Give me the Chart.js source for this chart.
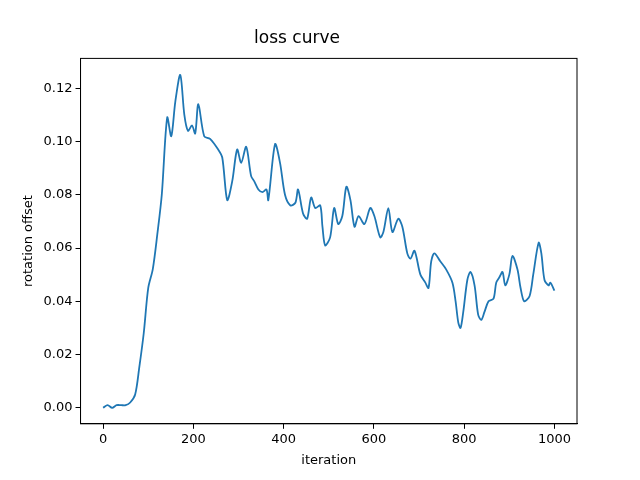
<!DOCTYPE html>
<html>
<head>
<meta charset="utf-8">
<script src="https://cdn.jsdelivr.net/npm/chart.js@4"></script>
<style>
  body { margin: 0; background: #fff; }
  #wrap { width: 640px; height: 480px; }
</style>
</head>
<body>
<div id="wrap"><canvas id="lossChart"></canvas></div>
<script>
// values
const iterations = [0, 10, 20, 30, 40, 50, 60, 71, 80, 90, 100, 110, 120, 130, 142, 151, 160, 171, 180, 188, 197, 204, 211, 224, 237, 255, 264, 275, 286, 297, 306, 317, 328, 335, 344, 353, 362, 366, 381, 392, 403, 415, 426, 432, 443, 452, 461, 470, 481, 486, 492, 503, 512, 521, 530, 539, 548, 557, 566, 579, 592, 601, 614, 621, 632, 641, 654, 663, 674, 681, 690, 703, 714, 721, 727, 734, 747, 760, 774, 781, 787, 792, 798, 807, 814, 823, 831, 838, 845, 854, 865, 871, 878, 885, 891, 900, 907, 918, 925, 933, 945, 953, 965, 971, 978, 987, 991, 1000];
const offsets = [0.000, 0.001, 0.000, 0.001, 0.001, 0.001, 0.002, 0.005, 0.015, 0.028, 0.045, 0.052, 0.065, 0.080, 0.109, 0.102, 0.115, 0.125, 0.110, 0.104, 0.106, 0.103, 0.114, 0.102, 0.101, 0.097, 0.094, 0.078, 0.085, 0.097, 0.092, 0.098, 0.087, 0.085, 0.082, 0.081, 0.082, 0.078, 0.099, 0.092, 0.080, 0.076, 0.077, 0.082, 0.073, 0.071, 0.079, 0.075, 0.076, 0.068, 0.061, 0.064, 0.075, 0.069, 0.072, 0.083, 0.078, 0.068, 0.072, 0.069, 0.075, 0.072, 0.064, 0.066, 0.075, 0.066, 0.071, 0.068, 0.058, 0.056, 0.059, 0.050, 0.047, 0.045, 0.055, 0.058, 0.055, 0.052, 0.047, 0.040, 0.032, 0.030, 0.036, 0.048, 0.051, 0.046, 0.035, 0.033, 0.036, 0.040, 0.041, 0.047, 0.049, 0.051, 0.046, 0.050, 0.057, 0.052, 0.045, 0.040, 0.042, 0.050, 0.062, 0.058, 0.048, 0.046, 0.047, 0.044];
const xTicks = [0, 200, 400, 600, 800, 1000];
const yTicks = [0.00, 0.02, 0.04, 0.06, 0.08, 0.10, 0.12];

const points = iterations.map((it, i) => ({ x: it, y: offsets[i] }));
const font = { family: "DejaVu Sans", size: 13 };
const tickGrid = { display: true, drawOnChartArea: false, drawTicks: true, tickLength: 5, color: "#000" };

new Chart(document.getElementById("lossChart"), {
    type: "line",
    data: {
        datasets: [{
            data: points,
            borderColor: "#1f77b4",
            borderWidth: 1.8,
            pointRadius: 0,
            tension: 0.3,
            fill: false
        }]
    },
    options: {
        responsive: true,
        maintainAspectRatio: false,
        animation: false,
        layout: { padding: { left: 17, right: 63, top: 28, bottom: 8 } },
        plugins: {
            legend: { display: false },
            tooltip: { enabled: false },
            title: {
                display: true,
                text: "loss curve",
                color: "#000",
                font: { family: "DejaVu Sans", size: 17, weight: "normal" },
                padding: { top: 0, bottom: 10 }
            }
        },
        scales: {
            x: {
                type: "linear",
                min: -50,
                max: 1050,
                afterBuildTicks: axis => { axis.ticks = xTicks.map(v => ({ value: v })); },
                grid: tickGrid,
                border: { color: "#000" },
                ticks: { color: "#000", font: font, maxRotation: 0, callback: v => String(v) },
                title: { display: true, text: "iteration", color: "#000", font: font, padding: { top: 2 } }
            },
            y: {
                min: -0.006,
                max: 0.1312,
                afterBuildTicks: axis => { axis.ticks = yTicks.map(v => ({ value: v })); },
                grid: tickGrid,
                border: { color: "#000" },
                ticks: { color: "#000", font: font, callback: v => v.toFixed(2) },
                title: { display: true, text: "rotation offset", color: "#000", font: font }
            }
        }
    },
    plugins: [{
        id: "frame",
        afterDraw(chart) {
            const { ctx, chartArea: a } = chart;
            ctx.save();
            ctx.strokeStyle = "#000";
            ctx.lineWidth = 1;
            ctx.strokeRect(a.left, a.top, a.right - a.left, a.bottom - a.top);
            ctx.restore();
        }
    }]
});
</script>
</body>
</html>
